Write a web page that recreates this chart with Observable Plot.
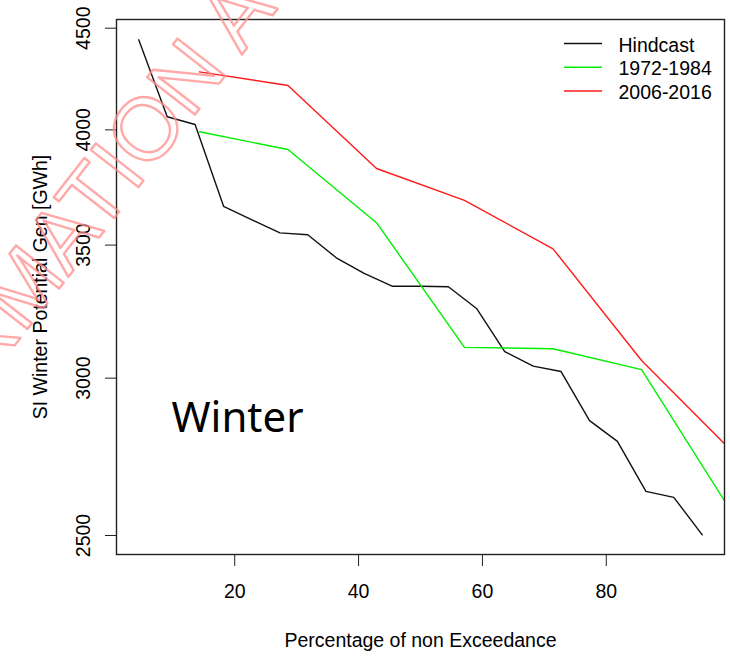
<!DOCTYPE html>
<html>
<head>
<meta charset="utf-8">
<script src="https://cdn.jsdelivr.net/npm/d3@7"></script>
<script src="https://cdn.jsdelivr.net/npm/@observablehq/plot@0.6"></script>
<style>
  html, body { margin: 0; padding: 0; background: #fff; }
  #chart { width: 730px; height: 656px; overflow: hidden; }
</style>
</head>
<body>
<div id="chart"></div>
<script>
// Winter potential generation duration curves (percentage of non exceedance)
const seriesNames = ["Hindcast", "1972-1984", "2006-2016"];
const seriesColors = ["#111111", "#00ee00", "#ff1a1a"];

const hindcastPct = [4.5, 9.1, 13.6, 18.2, 22.7, 27.3, 31.8, 36.4, 40.9, 45.5, 50.0,
                     54.5, 59.1, 63.6, 68.2, 72.7, 77.3, 81.8, 86.4, 90.9, 95.5];
const hindcastGen = [4440, 4061, 4025, 3661, 3605, 3550, 3542, 3449, 3387, 3337, 3337,
                     3335, 3251, 3094, 3042, 3023, 2856, 2788, 2631, 2613, 2502];

const periodPct = [14.3, 28.6, 42.9, 57.1, 71.4, 85.7, 100.0];
const gen1972 = [3991, 3910, 3592, 3109, 3104, 3030, 2576];
const gen2006 = [4278, 4211, 3825, 3686, 3485, 3062, 2762];

const xTicks = [20, 40, 60, 80];
const yTicks = [2500, 3000, 3500, 4000, 4500];

const rows = [
  ...hindcastPct.map((p, i) => ({series: seriesNames[0], pct: p, gen: hindcastGen[i]})),
  ...periodPct.map((p, i) => ({series: seriesNames[1], pct: p, gen: gen1972[i]})),
  ...periodPct.map((p, i) => ({series: seriesNames[2], pct: p, gen: gen2006[i]}))
];

const font = "'Liberation Sans', Arial, sans-serif";

const chart = Plot.plot({
  width: 730,
  height: 656,
  marginLeft: 116,
  marginRight: 6,
  marginTop: 19,
  marginBottom: 102,
  style: {fontFamily: font, fontSize: "19.5px", background: "#fff", color: "#000"},
  x: {type: "linear", domain: [0.909, 99.09], axis: null},
  y: {type: "log", domain: [2445.6, 4545.6], axis: null},
  color: {domain: seriesNames, range: seriesColors},
  marks: [
    Plot.line(rows, {x: "pct", y: "gen", z: "series", stroke: "series", strokeWidth: 1.4, clip: true}),
    Plot.frame({stroke: "#222", strokeWidth: 1.4}),
    Plot.axisX({ticks: xTicks, tickSize: 12, tickPadding: 18, label: null, stroke: "#222",
                fontSize: 19.5, fill: "#000"}),
    Plot.axisY({ticks: yTicks, tickSize: 11, tickFormat: () => "", label: null, stroke: "#222"}),
    Plot.text(yTicks, {y: d => d, text: d => String(d), frameAnchor: "left", dx: -26.5,
                       rotate: -90, textAnchor: "middle", lineAnchor: "bottom", fill: "#000"}),
    Plot.text(["SI Winter Potential Gen [GWh]"], {frameAnchor: "left", dx: -70, rotate: -90,
                       textAnchor: "middle", lineAnchor: "bottom", fill: "#000"}),
    Plot.text(["Percentage of non Exceedance"], {frameAnchor: "bottom", dy: 92,
                       lineAnchor: "bottom", fill: "#000"}),
    Plot.text(["Winter"], {frameAnchor: "top-left", dx: 55, dy: 412.7, textAnchor: "start",
                       lineAnchor: "bottom", fontSize: 42, fontFamily: "'Noto Sans', sans-serif", fill: "#000"}),
    // outlined stamp running diagonally across the upper left
    Plot.text(["INFORMATION A"], {frameAnchor: "top-left", dx: -262, dy: 531, rotate: -52,
                       textAnchor: "start", lineAnchor: "bottom", fontSize: 88,
                       fill: "none", stroke: "#ff8c8c", strokeWidth: 2.4, strokeOpacity: 0.75})
  ]
});

// Legend (no box), top right inside the plot frame
const svg = d3.select(chart);
const legend = svg.append("g")
  .attr("font-family", font)
  .attr("font-size", "19.5px")
  .attr("text-anchor", "start");
seriesNames.forEach((name, i) => {
  const cy = 44.6 + i * 23.7;
  legend.append("line")
    .attr("x1", 564).attr("x2", 602).attr("y1", cy - 1).attr("y2", cy - 1)
    .attr("stroke", seriesColors[i]).attr("stroke-width", 1.5);
  legend.append("text")
    .attr("x", 618.5).attr("y", cy).attr("dy", "0.36em")
    .attr("fill", "#000").text(name);
});

document.getElementById("chart").appendChild(chart);
</script>
</body>
</html>
